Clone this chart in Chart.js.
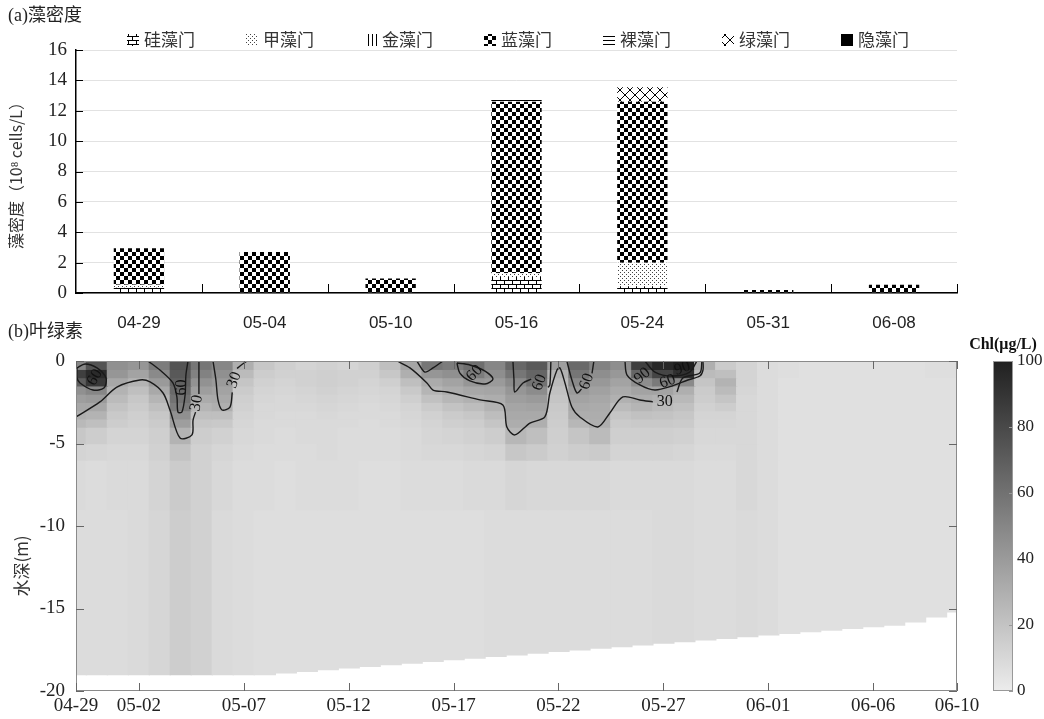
<!DOCTYPE html>
<html><head><meta charset="utf-8">
<script src="https://cdn.jsdelivr.net/npm/chart.js@4.4.1/dist/chart.umd.min.js"></script>
<style>
html,body{margin:0;padding:0;background:#fff;width:1044px;height:719px;overflow:hidden}
canvas{position:absolute}
</style></head><body>
<canvas id="top" width="1044" height="335" style="left:0;top:0"></canvas>
<canvas id="bot" width="1044" height="401" style="left:0;top:318px"></canvas>
<canvas id="cbar" width="84" height="401" style="left:960px;top:318px"></canvas>
<script>
// ---------- (a) algal density data ----------
const categories = ['04-29','05-04','05-10','05-16','05-24','05-31','06-08'];
const phylumNames = ['硅藻门','甲藻门','金藻门','蓝藻门','裸藻门','绿藻门','隐藻门'];
const bacillariophyta = [0.35,0.05,0.05,1.05,0.45,0.05,0.05];
const pyrrophyta      = [0.2,0,0,0.25,1.55,0,0];
const chrysophyta     = [0,0,0,0,0,0,0];
const cyanophyta      = [2.4,2.65,0.9,11.3,10.6,0.15,0.5];
const euglenophyta    = [0,0,0,0.1,0,0,0];
const chlorophyta     = [0,0,0,0,0.95,0,0];
const cryptophyta     = [0,0,0,0,0,0,0];
const densityTicks = [0,2,4,6,8,10,12,14,16];

// ---------- (b) chlorophyll data ----------
const days = [0,1,2,3,4,5,6,7,8,9,10,11,12,13,14,15,16,17,18,19,20,21,22,23,24,25,26,27,28,29,30,31,32,33,34,35,36,37,38,39,40,41,42];
const dayTicks = [0,3,8,13,18,23,28,33,38,42];
const dayTickLabels = ['04-29','05-02','05-07','05-12','05-17','05-22','05-27','06-01','06-06','06-10'];
const depthTicks = [0,-5,-10,-15,-20];
const layerTop    = [0,0.5,1,1.5,2,2.5,3,3.5,4,5,6,9];
const layerBottom = [0.5,1,1.5,2,2.5,3,3.5,4,5,6,9,null];
const bottomDepth = [19,19,19,19,19,19,19,19,19,19,18.9,18.8,18.7,18.6,18.5,18.4,18.3,18.2,18.1,18.0,17.9,17.8,17.7,17.6,17.5,17.4,17.3,17.2,17.1,17.0,16.9,16.8,16.7,16.6,16.5,16.4,16.3,16.2,16.1,16.0,15.8,15.5,15.2];
const chlRow0  = [50,75,45,42,55,75,58,50,30,18,14,12,13,12,14,22,35,58,55,62,50,65,72,38,64,52,46,85,96,100,30,16,12,8,7,6,6,6,6,6,6,7,7];
const chlRow1  = [85,95,42,36,48,72,52,45,24,15,13,13,14,13,13,18,30,42,45,55,46,58,66,28,58,46,41,66,82,92,24,22,12,8,7,6,6,6,6,6,6,7,7];
const chlRow2  = [70,88,34,28,40,68,44,40,19,13,12,13,14,13,12,14,22,32,36,42,40,48,60,24,48,41,36,46,56,48,19,28,12,8,6,6,6,6,6,6,6,6,6];
const chlRow3  = [45,50,28,22,33,64,38,36,16,12,11,12,13,12,11,12,17,27,31,34,35,42,47,21,40,37,32,36,36,30,16,24,11,8,6,6,6,6,6,6,6,6,6];
const chlRow4  = [38,40,24,18,27,60,32,33,14,11,10,11,12,11,10,11,14,21,26,29,31,38,40,19,36,34,29,31,29,25,15,19,10,8,6,6,6,6,6,6,6,6,6];
const chlRow5  = [34,34,20,16,22,55,27,30,13,10,10,10,11,10,9,10,12,16,20,23,28,35,36,17,33,32,24,27,24,21,13,15,10,8,6,6,6,6,6,6,6,6,6];
const chlRow6  = [30,28,17,14,18,45,22,22,12,10,9,9,10,9,9,9,11,13,16,18,23,33,33,16,31,31,19,21,20,18,12,12,10,8,6,6,6,6,6,6,6,6,6];
const chlRow7  = [25,22,15,13,16,38,18,17,11,9,9,9,9,9,8,9,10,12,14,15,19,31,30,15,26,30,16,17,17,16,11,11,10,8,6,6,6,6,6,6,6,6,6];
const chlRow8  = [18,15,12,12,14,28,15,13,10,9,8,9,9,8,8,8,9,11,12,13,15,26,22,14,19,24,14,14,14,13,10,10,10,8,6,6,6,6,6,6,6,6,6];
const chlRow9  = [12,11,10,10,13,20,13,11,9,8,8,8,9,8,8,8,9,10,10,11,12,18,16,13,15,16,12,12,12,11,9,9,10,8,6,6,6,6,6,6,6,6,6];
const chlRow10 = [9,8,9,9,12,16,13,10,8,8,7,8,8,8,7,7,8,8,8,9,9,11,10,10,10,10,9,9,9,9,8,8,10,8,6,6,6,6,6,6,6,6,6];
const chlRow11 = [8,8,8,9,11,15,13,9,8,7,7,7,7,7,7,7,7,7,7,7,8,8,8,8,8,8,8,8,9,9,8,8,9,8,6,6,6,6,6,6,6,6,6];
const chlRows = [chlRow0,chlRow1,chlRow2,chlRow3,chlRow4,chlRow5,chlRow6,chlRow7,chlRow8,chlRow9,chlRow10,chlRow11];

// contour lines [day, depth]
const contour30A1 = [[0,-3.39],[1.14,-2.48],[1.95,-1.58],[3.05,-1.15],[3.53,-1.27],[4.15,-1.94],[4.48,-2.97],[4.96,-4.67],[5.53,-4.48],[5.58,-3.58],[5.7,-3.1]];
const contour30A2 = [[5.86,-2.0],[5.86,0]];
const contour30B1 = [[6.53,0],[6.67,-1.15],[6.77,-2.36],[6.96,-2.97],[7.34,-2.79],[7.45,-1.9]];
const contour30B2 = [[7.68,-0.45],[7.82,-0.3],[8.15,0]];
const contour60C  = [[3.43,0],[4.0,-0.55],[4.62,-1.33],[4.81,-2.18],[4.86,-3.09],[5.05,-3.09],[5.2,-2.06],[5.24,-0.85],[5.34,0]];
const contour60D  = [[0.05,-0.42],[0.43,-0.18],[1.0,-0.42],[1.43,-1.03],[1.33,-1.64],[0.81,-1.76],[0.19,-1.33],[0.05,-1.03],[0.05,-0.42]];
const contour30E1 = [[15.3,0],[15.92,-0.42],[16.73,-1.33],[17.02,-1.76],[17.68,-1.88],[19.26,-2.36],[20.35,-2.67],[20.54,-4.0],[20.92,-4.48],[21.64,-3.76],[22.35,-3.39],[22.59,-1.94],[22.93,-0.55],[23.07,-0.42],[23.31,-1.33],[23.64,-2.79],[24.02,-3.39],[24.88,-4.0],[25.45,-3.15],[26.07,-2.18],[26.88,-2.36],[27.5,-2.48]];
const contour30E2 = [[28.65,-1.88],[28.93,-1.03],[29.74,-0.73],[29.84,0]];
const contour60F  = [[16.25,0],[16.63,-0.67],[17.02,-0.42],[17.49,0]];
const contour60G  = [[18.16,-0.12],[18.78,-0.24],[19.5,-0.61],[19.88,-1.09],[19.5,-1.39],[18.78,-1.21],[18.3,-0.73],[18.16,-0.12]];
const contour60H1 = [[20.83,0],[20.88,-1.15],[20.92,-1.88],[21.31,-1.33],[21.7,-1.1]];
const contour60H2 = [[22.5,-1.6],[22.59,-1.45],[22.64,0]];
const contour60I1 = [[23.4,0],[23.64,-1.15],[23.88,-1.94],[24.1,-1.7]];
const contour60I2 = [[24.6,-0.75],[24.69,0]];
const contour60J  = [[26.17,0],[26.27,-0.85],[26.88,-1.45],[27.6,-1.76],[28.41,-1.52],[29.17,-1.15],[29.74,-0.91],[29.89,-0.55],[29.89,0]];
const contour90K  = [[27.12,0],[27.6,-0.67],[28.41,-0.91],[29.26,-0.67],[29.6,0]];
const contourLines = [contour30A1,contour30A2,contour30B1,contour30B2,contour60C,contour60D,contour30E1,contour30E2,contour60F,contour60G,contour60H1,contour60H2,contour60I1,contour60I2,contour60J,contour90K];
const contourLabelText = ['30','30','60','60','30','60','60','60','90','60','90'];
const contourLabelDay  = [5.75,7.55,5.05,0.9,28.07,19.0,22.1,24.35,27.0,28.2,28.9];
const contourLabelDep  = [-2.55,-1.15,-1.6,-1.0,-2.45,-0.75,-1.3,-1.25,-0.9,-1.25,-0.45];
const contourLabelRot  = [-80,-70,-90,-60,0,-45,-70,-70,-40,-20,-20];
const chlScaleTicks = [0,20,40,60,80,100];

// ---------- helpers ----------
function chlGray(v){const g=Math.round(236-2.04*Math.min(100,Math.max(0,v)));return 'rgb('+g+','+g+','+g+')';}
const topCtx = document.getElementById('top').getContext('2d');
function pat(w,h,draw){const c=document.createElement('canvas');c.width=w;c.height=h;const g=c.getContext('2d');g.fillStyle='#fff';g.fillRect(0,0,w,h);g.fillStyle='#000';g.strokeStyle='#000';draw(g);return topCtx.createPattern(c,'repeat');}
const patterns = [
  pat(8,8,g=>{g.fillRect(0,0,8,1);g.fillRect(0,4,8,1);g.fillRect(0,0,1,4);g.fillRect(4,4,1,4);}),
  pat(4,4,g=>{g.fillStyle='#444';g.fillRect(0,0,1,1);g.fillRect(2,2,1,1);}),
  pat(4,4,g=>{g.fillRect(0,0,1,4);}),
  pat(8,8,g=>{g.fillRect(0,0,4,4);g.fillRect(4,4,4,4);}),
  pat(4,4,g=>{g.fillRect(0,0,4,1);}),
  pat(10,10,g=>{g.lineWidth=1;g.beginPath();g.moveTo(0,0);g.lineTo(10,10);g.moveTo(10,0);g.lineTo(0,10);g.stroke();}),
  '#000'
];
const seriesList=[bacillariophyta,pyrrophyta,chrysophyta,cyanophyta,euglenophyta,chlorophyta,cryptophyta];

// ---------- top chart ----------
const topDecor={id:'topDecor',afterDraw(chart){
  const {ctx,chartArea:a,scales:{y}}=chart;ctx.save();
  ctx.fillStyle='#222';ctx.font='18px "Liberation Serif","Noto Sans CJK SC"';ctx.textBaseline='middle';ctx.textAlign='left';
  ctx.fillText('(a)藻密度',8,16);
  ctx.font='17px "Noto Sans CJK SC"';
  phylumNames.forEach((n,i)=>{const cx=133+119*i,cy=40;ctx.fillStyle=patterns[i];ctx.fillRect(cx-6,cy-6,12,12);ctx.fillStyle='#333';ctx.fillText(n,cx+11,cy);});
  ctx.strokeStyle='#000';ctx.lineWidth=1;
  y.ticks.forEach(t=>{const py=Math.round(y.getPixelForValue(t.value))+0.5;ctx.beginPath();ctx.moveTo(a.left,py);ctx.lineTo(a.left+7,py);ctx.stroke();});
  const n=categories.length;
  for(let i=1;i<=n;i++){const px=Math.round(a.left+(a.right-a.left)*i/n)+0.5;ctx.beginPath();ctx.moveTo(px,a.bottom);ctx.lineTo(px,a.bottom-9);ctx.stroke();}
  ctx.restore();
}};
new Chart(topCtx,{type:'bar',
  data:{labels:categories,datasets:seriesList.map((d,i)=>({label:phylumNames[i],data:d,backgroundColor:patterns[i],borderWidth:0,categoryPercentage:0.4,barPercentage:1}))},
  options:{responsive:false,animation:false,layout:{padding:{top:50,right:87,left:0,bottom:0}},
    plugins:{legend:{display:false},title:{display:false},tooltip:{enabled:false}},
    scales:{
      x:{stacked:true,grid:{display:false},border:{display:true,color:'#000',width:1.5},
         ticks:{padding:12,font:{family:'"Liberation Sans"',size:17},color:'#222'},afterFit(s){s.height=42;}},
      y:{stacked:true,min:0,max:16,afterBuildTicks(s){s.ticks=densityTicks.map(v=>({value:v}));},
         grid:{color:'#e2e2e2',drawTicks:false},border:{display:true,color:'#000',width:1.5},
         ticks:{padding:9,font:{family:'"Liberation Serif"',size:19},color:'#222'},
         title:{display:true,text:'藻密度（10⁸ cells/L）',font:{family:'"Noto Sans CJK SC"',size:16},color:'#333',padding:{top:6,bottom:0}},
         afterFit(s){s.width=76;}}
    }},
  plugins:[topDecor]});

// ---------- bottom chart ----------
const heatSets = chlRows.map((vals,r)=>({type:'bar',order:2,clip:0,grouped:false,barPercentage:1,categoryPercentage:1,inflateAmount:0.7,borderWidth:0,
  data:days.map((d,i)=>({x:d,y:[-(r===11?bottomDepth[i]:layerBottom[r]),-layerTop[r]]})),
  backgroundColor:vals.map(chlGray)}));
const lineSets = contourLines.map(c=>({type:'line',order:0,clip:0,data:c.map(p=>({x:p[0],y:p[1]})),borderColor:'#1a1a1a',borderWidth:1.4,pointRadius:0,tension:0.3,fill:false}));
const botDecor={id:'botDecor',
 afterDatasetsDraw(chart){
  const {ctx,chartArea:a,scales:{x,y}}=chart;ctx.save();
  ctx.beginPath();ctx.rect(a.left,a.top,a.right-a.left,a.bottom-a.top);ctx.clip();
  ctx.fillStyle='#111';ctx.font='16px "Liberation Serif"';ctx.textAlign='center';ctx.textBaseline='middle';
  contourLabelText.forEach((t,i)=>{ctx.save();ctx.translate(x.getPixelForValue(contourLabelDay[i]),y.getPixelForValue(contourLabelDep[i]));ctx.rotate(contourLabelRot[i]*Math.PI/180);ctx.fillText(t,0,0);ctx.restore();});
  ctx.restore();
 },
 afterDraw(chart){
  const {ctx,chartArea:a,scales:{x,y}}=chart;ctx.save();
  ctx.strokeStyle='#8a8a8a';ctx.lineWidth=1;
  ctx.strokeRect(a.left+0.5,a.top+0.5,a.right-a.left-1,a.bottom-a.top-1);
  ctx.strokeStyle='#666';
  x.ticks.forEach(t=>{const px=Math.round(x.getPixelForValue(t.value))+0.5;ctx.beginPath();ctx.moveTo(px,a.bottom);ctx.lineTo(px,a.bottom-8);ctx.moveTo(px,a.top);ctx.lineTo(px,a.top+8);ctx.stroke();});
  y.ticks.forEach(t=>{const py=Math.round(y.getPixelForValue(t.value))+0.5;ctx.beginPath();ctx.moveTo(a.left,py);ctx.lineTo(a.left+8,py);ctx.moveTo(a.right,py);ctx.lineTo(a.right-8,py);ctx.stroke();});
  ctx.fillStyle='#222';ctx.font='18px "Liberation Serif","Noto Sans CJK SC"';ctx.textAlign='left';ctx.textBaseline='middle';
  ctx.fillText('(b)叶绿素',8,14);
  ctx.save();ctx.translate(22,248);ctx.rotate(-Math.PI/2);ctx.textAlign='center';ctx.font='17px "Noto Sans CJK SC"';ctx.fillStyle='#333';ctx.fillText('水深(m)',0,0);ctx.restore();
  ctx.restore();
 }};
new Chart(document.getElementById('bot'),{type:'bar',
  data:{datasets:[...lineSets,...heatSets]},
  options:{responsive:false,animation:false,layout:{padding:{top:43,right:87,left:0,bottom:0}},
    plugins:{legend:{display:false},title:{display:false},tooltip:{enabled:false}},
    scales:{
      x:{type:'linear',offset:false,min:0,max:42,afterBuildTicks(s){s.ticks=dayTicks.map(v=>({value:v}));},
         ticks:{callback:(v)=>dayTickLabels[dayTicks.indexOf(v)],padding:4,autoSkip:false,maxRotation:0,font:{family:'"Liberation Serif"',size:19},color:'#222'},
         grid:{display:false,offset:false,drawTicks:false},border:{display:false},afterFit(s){s.height=28;}},
      y:{type:'linear',min:-20,max:0,afterBuildTicks(s){s.ticks=depthTicks.map(v=>({value:v}));},
         ticks:{padding:11,font:{family:'"Liberation Serif"',size:19},color:'#222'},
         grid:{display:false,drawTicks:false},border:{display:false},afterFit(s){s.width=76;}}
    }},
  plugins:[botDecor]});

// ---------- colour bar ----------
const cbarDecor={id:'cbarDecor',afterDraw(chart){
  const {ctx,chartArea:a,scales:{y}}=chart;ctx.save();
  ctx.strokeStyle='#999';ctx.lineWidth=1;ctx.strokeRect(a.left+0.5,a.top+0.5,a.right-a.left-1,a.bottom-a.top-1);
  y.ticks.forEach(t=>{const py=Math.round(y.getPixelForValue(t.value))+0.5;ctx.beginPath();ctx.moveTo(a.right,py);ctx.lineTo(a.right-4,py);ctx.stroke();});
  ctx.fillStyle='#111';ctx.font='bold 16px "Liberation Serif"';ctx.textAlign='center';ctx.textBaseline='middle';
  ctx.fillText('Chl(μg/L)',(a.left+a.right)/2,27);
  ctx.restore();
}};
new Chart(document.getElementById('cbar'),{type:'bar',
  data:{labels:['Chl'],datasets:[{data:[[0,100]],barPercentage:1,categoryPercentage:1,borderWidth:0,
    backgroundColor:(c)=>{const a=c.chart.chartArea;if(!a)return '#888';const g=c.chart.ctx.createLinearGradient(0,a.bottom,0,a.top);g.addColorStop(0,chlGray(0));g.addColorStop(1,chlGray(100));return g;}}]},
  options:{responsive:false,animation:false,layout:{padding:{left:33,top:43,right:0,bottom:28}},
    plugins:{legend:{display:false},tooltip:{enabled:false}},
    scales:{x:{display:false},
      y:{position:'right',min:0,max:100,afterBuildTicks(s){s.ticks=chlScaleTicks.map(v=>({value:v}));},
         ticks:{padding:4,font:{family:'"Liberation Serif"',size:17},color:'#222'},
         grid:{display:false,drawTicks:false},border:{display:false},afterFit(s){s.width=31;}}}},
  plugins:[cbarDecor]});
</script>
</body></html>
